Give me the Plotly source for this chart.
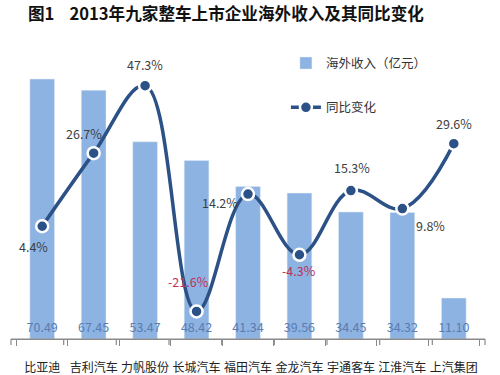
import plotly.graph_objects as go

categories = ["比亚迪", "吉利汽车", "力帆股份", "长城汽车", "福田汽车", "金龙汽车", "宇通客车", "江淮汽车", "上汽集团"]
revenue = [70.49, 67.45, 53.47, 48.42, 41.34, 39.56, 34.45, 34.32, 11.10]
yoy = [4.4, 26.7, 47.3, -21.6, 14.2, -4.3, 15.3, 9.8, 29.6]
# label offsets (px) relative to each marker
lbl_dx = [-9, -10, 0, -8, -28, 0, 1, 28, 0]
lbl_dy = [-20, 20, 21, 30, -8, -16, 23, -17, 20]

FONT = "Noto Sans CJK SC, Microsoft YaHei, sans-serif"
LINE_C = "#2B5186"
AXIS_C = "#8A8A8A"

fig = go.Figure()
fig.add_trace(go.Bar(
    x=categories, y=revenue, name="海外收入（亿元）",
    marker=dict(color="#8DB3E2"), width=0.48,
    text=[f"{v:.2f}" for v in revenue], textposition="inside",
    insidetextanchor="start", textangle=0,
    textfont=dict(color="#5B7CB0", size=12.5, family=FONT),
    legendgroup="a", yaxis="y",
))
fig.add_trace(go.Scatter(
    x=categories, y=yoy, name="同比变化", yaxis="y2",
    mode="lines+markers",
    line=dict(color=LINE_C, width=3.5, shape="spline", smoothing=1.1),
    marker=dict(color=LINE_C, size=12, line=dict(color="white", width=2.5)),
    legendgroup="b", cliponaxis=False,
))

for c, v, dx, dy in zip(categories, yoy, lbl_dx, lbl_dy):
    fig.add_annotation(
        x=c, y=v, xref="x", yref="y2", text=f"{v:.1f}%", showarrow=False,
        xshift=dx, yshift=dy,
        font=dict(size=12.5, family=FONT, color="#C0305A" if v < 0 else "#404040"),
    )

# category axis baseline and boundary tick marks (paper-referenced, outside plot)
n = len(categories)
fig.add_shape(type="line", xref="paper", yref="paper", x0=0, x1=1, y0=0, y1=0,
              line=dict(color=AXIS_C, width=1.2), layer="above")
for i in range(n + 1):
    fig.add_shape(type="line", xref="paper", yref="paper", x0=i / n, x1=i / n,
                  y0=0, y1=-0.02, line=dict(color=AXIS_C, width=1.2), layer="above")

fig.update_layout(
    width=500, height=375,
    margin=dict(l=11, r=15, t=44, b=36, autoexpand=False),
    paper_bgcolor="white", plot_bgcolor="white",
    font=dict(family=FONT, size=12, color="#222222"),
    title=dict(text="<b>图1\u00a0\u00a0\u00a0\u00a02013年九家整车上市企业海外收入及其同比变化</b>",
               x=0.056, xanchor="left", y=0.962, yanchor="middle",
               font=dict(size=16.6, color="#111111", family=FONT)),
    showlegend=True,
    legend=dict(x=0.58, xanchor="left", y=0.985, yanchor="top",
                bgcolor="rgba(0,0,0,0)", tracegroupgap=25,
                font=dict(size=12.5, color="#333333", family=FONT)),
    uniformtext=dict(minsize=12.5, mode="show"),
    xaxis=dict(type="category", showgrid=False, showline=True, linecolor=AXIS_C,
               linewidth=1.2, ticks="outside", tickson="boundaries", ticklen=6,
               tickcolor=AXIS_C, tickwidth=1.2, tickangle=0, automargin=False,
               ticklabelstandoff=17,
               tickfont=dict(size=12, color="#222222")),
    yaxis=dict(range=[0, 80], visible=False, showgrid=False, zeroline=False),
    yaxis2=dict(range=[-30, 60], overlaying="y", visible=False, showgrid=False, zeroline=False),
    bargap=0.52,
)

fig.write_html("out.html", config={"displayModeBar": False},
               post_script="document.body.style.margin='0';")
